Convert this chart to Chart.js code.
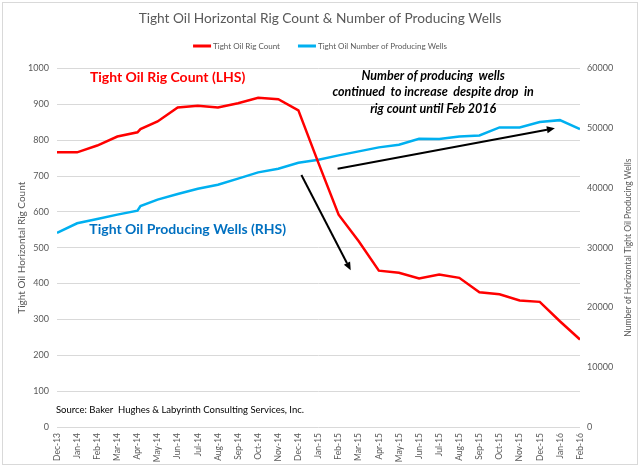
<!DOCTYPE html>
<html>
<head>
<meta charset="utf-8">
<script src="https://cdn.jsdelivr.net/npm/chart.js@4.4.1/dist/chart.umd.min.js"></script>
<style>
    html, body { margin: 0; padding: 0; background: #fff; }
    #wrap { width: 640px; height: 468px; }
</style>
</head>
<body>
<div id="wrap"><canvas id="chart" width="640" height="468"></canvas></div>
<script>
// month labels on the x axis
const months = [
    'Dec-13', 'Jan-14', 'Feb-14', 'Mar-14', 'Apr-14', 'May-14', 'Jun-14', 'Jul-14', 'Aug-14',
    'Sep-14', 'Oct-14', 'Nov-14', 'Dec-14', 'Jan-15', 'Feb-15', 'Mar-15', 'Apr-15', 'May-15',
    'Jun-15', 'Jul-15', 'Aug-15', 'Sep-15', 'Oct-15', 'Nov-15', 'Dec-15', 'Jan-16', 'Feb-16'
];

// position of each reading on the month axis (April 2014 has two readings)
const pointPos = [0, 1, 2, 3, 4, 4.15, 5, 6, 7, 8, 9, 10, 11, 12, 13, 14, 15, 16, 17, 18, 19, 20, 21, 22, 23, 24, 25, 26];

// Tight Oil horizontal rig count (left axis)
const rigCount = [766, 766, 785, 810, 822, 831, 852, 891, 896, 891, 903, 918, 914, 883, 736, 592, 518, 436, 430, 414, 425, 416, 376, 370, 353, 349, 295, 244];

// Tight Oil number of producing wells (right axis)
const producingWells = [32470, 34090, 34800, 35540, 36210, 36980, 38050, 38990, 39880, 40550, 41560, 42610, 43230, 44220,
    44730, 45450, 46120, 46790, 47240, 48240, 48180, 48630, 48790, 50130, 50130, 51020, 51350, 49850];

const rigTicks = [0, 100, 200, 300, 400, 500, 600, 700, 800, 900, 1000];
const wellTicks = [0, 10000, 20000, 30000, 40000, 50000, 60000];

const FONT = 'Lato, "Open Sans", sans-serif';
const GREY = '#595959';

// text notes placed on the chart (month position, left-axis value)
const notes = [
    { text: 'Tight Oil Rig Count (LHS)', x: 5.5, y: 975, color: '#ff0000', font: 'bold 14px ' + FONT, align: 'center' },
    { text: 'Tight Oil Producing Wells (RHS)', x: 6.5, y: 552, color: '#0070c0', font: 'bold 14px ' + FONT, align: 'center' },
    { text: 'Number of producing  wells', x: 18.7, y: 980, color: '#000', font: 'italic bold 12.5px ' + FONT, align: 'center' },
    { text: 'continued  to increase  despite drop  in', x: 18.7, y: 934, color: '#000', font: 'italic bold 12.5px ' + FONT, align: 'center' },
    { text: 'rig count until Feb 2016', x: 18.7, y: 888, color: '#000', font: 'italic bold 12.5px ' + FONT, align: 'center' },
    { text: 'Source: Baker  Hughes & Labyrinth Consulting Services, Inc.', x: -0.05, y: 48, color: '#000', font: '9.5px ' + FONT, align: 'left' }
];

// arrows: [fromPos, fromValue, toPos, toValue]
const arrows = [
    [12.15, 703, 14.6, 437],
    [13.95, 720, 24.75, 833]
];

const notesPlugin = {
    id: 'notes',
    beforeDraw(chart) {
        const ctx = chart.ctx;
        ctx.save();
        ctx.fillStyle = '#fff';
        ctx.fillRect(0, 0, chart.width, chart.height);
        ctx.strokeStyle = '#d9d9d9';
        ctx.lineWidth = 1;
        ctx.strokeRect(2.5, 2.5, chart.width - 5, chart.height - 6);
        ctx.restore();
    },
    afterDraw(chart) {
        const { ctx, scales: { x, y } } = chart;
        ctx.save();

        // legend
        const items = chart.data.datasets.map(d => ({ label: d.label, color: d.borderColor }));
        ctx.font = '8px ' + FONT;
        ctx.textBaseline = 'middle';
        const boxW = 18, gap = 2, spacing = 18;
        let total = 0;
        items.forEach((it, i) => { total += boxW + gap + ctx.measureText(it.label).width + (i ? spacing : 0); });
        let lx = (chart.width - total) / 2;
        const ly = 46;
        items.forEach(it => {
            ctx.fillStyle = it.color;
            ctx.fillRect(lx, ly - 1.5, boxW, 3);
            lx += boxW + gap;
            ctx.fillStyle = GREY;
            ctx.textAlign = 'left';
            ctx.fillText(it.label, lx, ly);
            lx += ctx.measureText(it.label).width + spacing;
        });

        // right axis title, reading upwards
        ctx.save();
        ctx.translate(628, (y.top + y.bottom) / 2);
        ctx.rotate(-Math.PI / 2);
        ctx.font = '8.5px ' + FONT;
        ctx.fillStyle = GREY;
        ctx.textAlign = 'center';
        ctx.textBaseline = 'middle';
        ctx.fillText('Number of Horizontal Tight Oil Producing Wells', 0, 0);
        ctx.restore();

        // arrows
        ctx.strokeStyle = '#000';
        ctx.fillStyle = '#000';
        ctx.lineWidth = 2;
        arrows.forEach(a => {
            const x1 = x.getPixelForValue(a[0]), y1 = y.getPixelForValue(a[1]);
            const x2 = x.getPixelForValue(a[2]), y2 = y.getPixelForValue(a[3]);
            const ang = Math.atan2(y2 - y1, x2 - x1);
            const hl = 8, hw = 3.5;
            const bx = x2 - hl * Math.cos(ang), by = y2 - hl * Math.sin(ang);
            ctx.beginPath();
            ctx.moveTo(x1, y1);
            ctx.lineTo(bx, by);
            ctx.stroke();
            ctx.beginPath();
            ctx.moveTo(x2, y2);
            ctx.lineTo(bx + hw * Math.sin(ang), by - hw * Math.cos(ang));
            ctx.lineTo(bx - hw * Math.sin(ang), by + hw * Math.cos(ang));
            ctx.closePath();
            ctx.fill();
        });

        // text notes
        notes.forEach(n => {
            ctx.font = n.font;
            ctx.fillStyle = n.color;
            ctx.textAlign = n.align;
            ctx.textBaseline = 'middle';
            ctx.fillText(n.text, x.getPixelForValue(n.x), y.getPixelForValue(n.y));
        });
        ctx.restore();
    }
};

new Chart(document.getElementById('chart'), {
    type: 'line',
    data: {
        datasets: [
            {
                label: 'Tight Oil Rig Count',
                data: pointPos.map((p, i) => ({ x: p, y: rigCount[i] })),
                borderColor: '#ff0000',
                backgroundColor: '#ff0000',
                borderWidth: 2.5,
                pointRadius: 0,
                tension: 0,
                yAxisID: 'y'
            },
            {
                label: 'Tight Oil Number of Producing Wells',
                data: pointPos.map((p, i) => ({ x: p, y: producingWells[i] })),
                borderColor: '#00b0f0',
                backgroundColor: '#00b0f0',
                borderWidth: 2.5,
                pointRadius: 0,
                tension: 0,
                yAxisID: 'y1'
            }
        ]
    },
    options: {
        responsive: false,
        animation: false,
        layout: { padding: 0 },
        plugins: {
            legend: { display: false },
            tooltip: { enabled: false },
            title: {
                display: true,
                text: 'Tight Oil Horizontal Rig Count & Number of Producing Wells',
                color: GREY,
                font: { family: FONT, size: 13.7, weight: 'normal', lineHeight: 1.2 },
                padding: { top: 10, bottom: 42 }
            }
        },
        scales: {
            x: {
                type: 'linear',
                min: 0,
                max: months.length - 1,
                grid: { display: false, drawTicks: false },
                border: { display: false },
                afterBuildTicks: s => { s.ticks = months.map((m, i) => ({ value: i })); },
                afterFit: s => { s.height = 41; },
                ticks: {
                    autoSkip: false,
                    maxRotation: 90,
                    minRotation: 90,
                    padding: 6,
                    color: GREY,
                    font: { family: FONT, size: 8.5 },
                    callback: v => months[v]
                }
            },
            y: {
                position: 'left',
                min: 0,
                max: 1000,
                afterBuildTicks: s => { s.ticks = rigTicks.map(v => ({ value: v })); },
                afterFit: s => { s.width = 57; },
                grid: { color: '#d9d9d9', lineWidth: 1, drawTicks: false },
                border: { display: false },
                ticks: { color: GREY, font: { family: FONT, size: 9 }, padding: 8, callback: v => String(v) },
                title: {
                    display: true,
                    text: 'Tight Oil Horizontal Rig Count',
                    color: GREY,
                    font: { family: FONT, size: 10 },
                    padding: { top: 16, bottom: 0 }
                }
            },
            y1: {
                position: 'right',
                min: 0,
                max: 60000,
                afterBuildTicks: s => { s.ticks = wellTicks.map(v => ({ value: v })); },
                afterFit: s => { s.width = 60; },
                grid: { display: false, drawTicks: false },
                border: { display: false },
                ticks: { color: GREY, font: { family: FONT, size: 9 }, padding: 7, callback: v => String(v) }
            }
        }
    },
    plugins: [notesPlugin]
});
</script>
</body>
</html>
